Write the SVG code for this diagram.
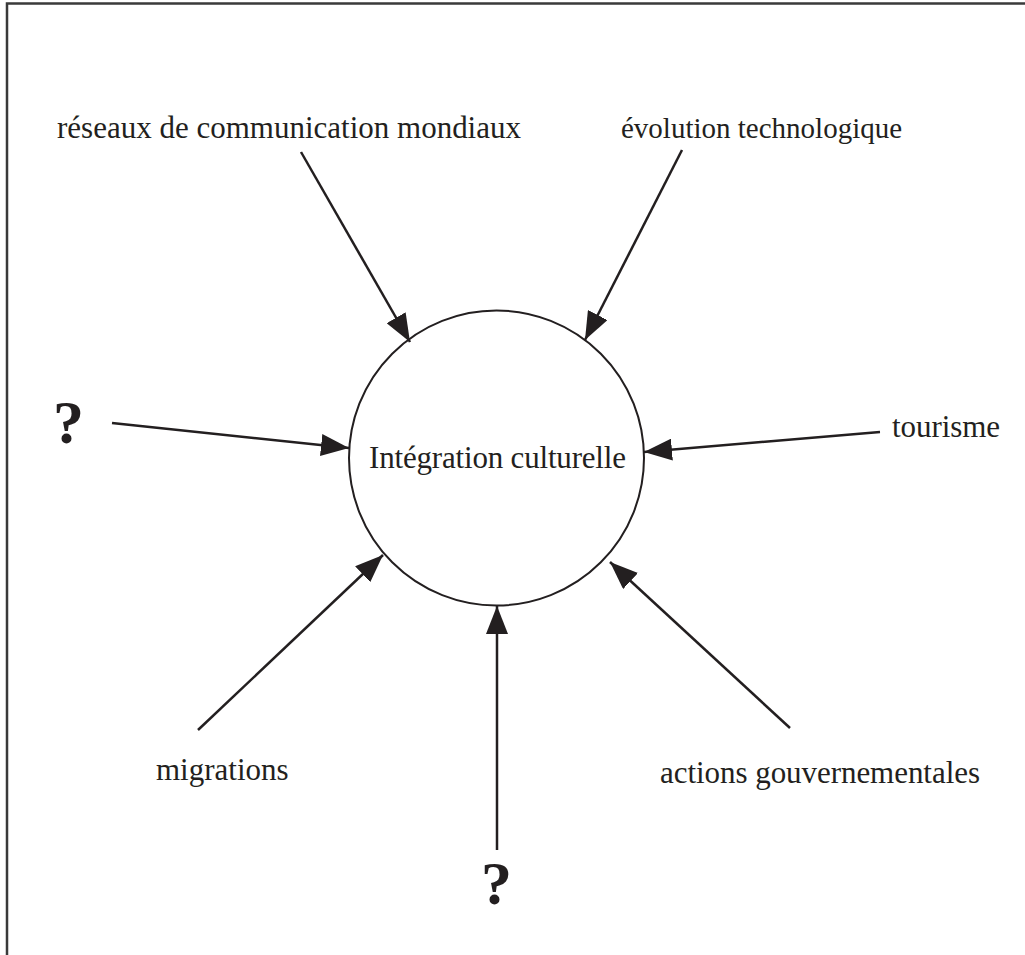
<svg xmlns="http://www.w3.org/2000/svg" width="1025" height="955" viewBox="0 0 1025 955">
<style>
.t{font-family:"Liberation Serif","Times New Roman",serif;font-size:31px;fill:#231f20}
.q{font-family:"Liberation Serif","Times New Roman",serif;font-size:62px;font-weight:bold;fill:#231f20}
.c{stroke:#231f20;stroke-width:2.5;fill:none}
</style>
<defs>
<marker id="a" viewBox="0 0 28 22" refX="28" refY="11" markerWidth="28" markerHeight="22" orient="auto" markerUnits="userSpaceOnUse">
<path d="M0,0 L28,11 L0,22 Z" fill="#231f20"/>
</marker>
</defs>
<rect width="1025" height="955" fill="#fff"/>
<path d="M7,960 V3.5 H1030" fill="none" stroke="#3a3a3a" stroke-width="2.5"/>
<g id="center">
<circle cx="496.5" cy="458" r="147.5" fill="none" stroke="#231f20" stroke-width="2"/>
<text class="t" x="369" y="468" textLength="257">Intégration culturelle</text>
</g>
<g id="n1"><text class="t" x="57" y="138" textLength="464">réseaux de communication mondiaux</text></g>
<g id="n2"><text class="t" x="621" y="138" style="font-size:29px">évolution technologique</text></g>
<g id="n3"><text class="q" x="53" y="443">?</text></g>
<g id="n4"><text class="t" x="892" y="437" textLength="108">tourisme</text></g>
<g id="n5"><text class="t" x="156" y="780">migrations</text></g>
<g id="n6"><text class="t" x="660" y="783" textLength="320">actions gouvernementales</text></g>
<g id="n7"><text class="q" x="481" y="904">?</text></g>
<g id="connectors">
<line class="c" x1="301" y1="152" x2="410" y2="342" marker-end="url(#a)"/>
<line class="c" x1="682" y1="150" x2="585" y2="340" marker-end="url(#a)"/>
<line class="c" x1="112" y1="423" x2="349" y2="448" marker-end="url(#a)"/>
<line class="c" x1="880" y1="432" x2="644" y2="452" marker-end="url(#a)"/>
<line class="c" x1="198" y1="730" x2="383" y2="555" marker-end="url(#a)"/>
<line class="c" x1="497" y1="850" x2="497" y2="606" marker-end="url(#a)"/>
<line class="c" x1="790" y1="728" x2="610" y2="562" marker-end="url(#a)"/>
</g>
</svg>
